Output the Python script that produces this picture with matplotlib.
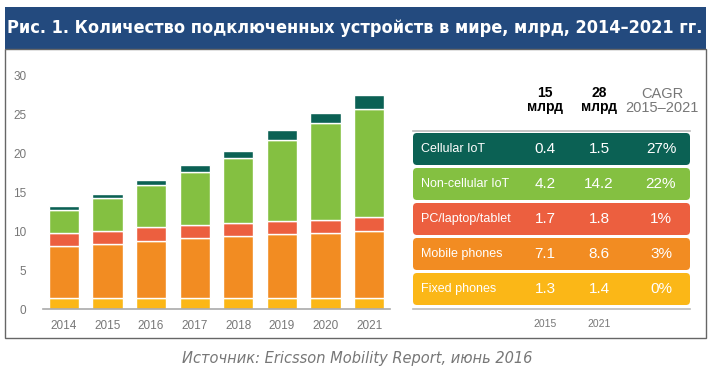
import matplotlib
matplotlib.use('Agg')
import matplotlib.pyplot as plt
from matplotlib.patches import Rectangle, FancyBboxPatch

W, H = 713, 377

years = ['2014', '2015', '2016', '2017', '2018', '2019', '2020', '2021']
fixed = [1.4, 1.4, 1.4, 1.4, 1.4, 1.4, 1.4, 1.4]
mobile = [6.7, 7.0, 7.3, 7.7, 8.0, 8.2, 8.4, 8.6]
pc = [1.7, 1.7, 1.8, 1.7, 1.7, 1.7, 1.7, 1.8]
noncell = [2.9, 4.2, 5.5, 6.9, 8.4, 10.4, 12.5, 14.0]
cell = [0.5, 0.5, 0.6, 0.8, 0.9, 1.3, 1.2, 1.7]

series = [fixed, mobile, pc, noncell, cell]
colors = ['#fbb717', '#f28c22', '#ec5f3f', '#84c041', '#0b6154']

row_names = ['Cellular IoT', 'Non-cellular IoT', 'PC/laptop/tablet', 'Mobile phones', 'Fixed phones']
row_2015 = ['0.4', '4.2', '1.7', '7.1', '1.3']
row_2021 = ['1.5', '14.2', '1.8', '8.6', '1.4']
row_cagr = ['27%', '22%', '1%', '3%', '0%']
row_colors = ['#0b6154', '#84c041', '#ec5f3f', '#f28c22', '#fbb717']

title = 'Рис. 1. Количество подключенных устройств в мире, млрд, 2014–2021 гг.'
source = 'Источник: Ericsson Mobility Report, июнь 2016'


def px_axes(fig, x0, y0, x1, y1):
    # pixel box (top-left origin) -> figure axes
    return fig.add_axes([x0 / W, 1 - y1 / H, (x1 - x0) / W, (y1 - y0) / H])


fig = plt.figure(figsize=(W / 100, H / 100), dpi=100)

# background layer in pixel coordinates
bg = fig.add_axes([0, 0, 1, 1])
bg.set_xlim(0, W)
bg.set_ylim(H, 0)
bg.axis('off')

bg.add_patch(Rectangle((5, 7), 701, 42, facecolor='#234a7e', edgecolor='none'))
bg.add_patch(Rectangle((5, 49), 701, 289, facecolor='white', edgecolor='#666666', lw=1.0))
bg.text(355, 28, title, color='white', fontsize=13, fontweight='bold',
        family='DejaVu Sans', fontstretch='condensed', ha='center', va='center')
bg.text(357, 359, source, color='#777777', fontsize=10.5, style='italic',
        ha='center', va='center')

# table on the right
bg.text(545, 100, '15\nмлрд', fontsize=10, fontweight='bold', ha='center', va='center',
        linespacing=1.05, family='Liberation Sans')
bg.text(599, 100, '28\nмлрд', fontsize=10, fontweight='bold', ha='center', va='center',
        linespacing=1.05, family='Liberation Sans')
bg.text(662, 101, 'CAGR\n2015–2021', fontsize=10.5, color='#777777', ha='center', va='center',
        linespacing=1.05, family='Liberation Sans')
bg.plot([413, 690], [131, 131], color='#bbbbbb', lw=1.2)
bg.plot([413, 690], [309, 309], color='#bbbbbb', lw=1.2)

for i, name in enumerate(row_names):
    top = 133 + i * 35
    bg.add_patch(FancyBboxPatch((413, top), 277, 32,
                                boxstyle='round,pad=0,rounding_size=4',
                                facecolor=row_colors[i], edgecolor='none'))
    cy = top + 16
    bg.text(421, cy, name, color='white', fontsize=9, ha='left', va='center',
            family='Liberation Sans')
    bg.text(545, cy, row_2015[i], color='white', fontsize=11, ha='center', va='center',
            family='Liberation Sans')
    bg.text(599, cy, row_2021[i], color='white', fontsize=11, ha='center', va='center',
            family='Liberation Sans')
    bg.text(661, cy, row_cagr[i], color='white', fontsize=11, ha='center', va='center',
            family='Liberation Sans')

bg.text(545, 324, '2015', color='#777777', fontsize=7.5, ha='center', va='center',
        family='Liberation Sans')
bg.text(599, 324, '2021', color='#777777', fontsize=7.5, ha='center', va='center',
        family='Liberation Sans')

# stacked bar chart
ax = px_axes(fig, 43, 70, 390, 309)
ax.patch.set_alpha(0)
x = list(range(len(years)))
bottom = [0.0] * len(years)
for vals, c in zip(series, colors):
    ax.bar(x, vals, bottom=bottom, width=0.69, color=c, edgecolor='white', linewidth=1.0)
    bottom = [b + v for b, v in zip(bottom, vals)]

ax.set_xlim(-0.48, 7.48)
ax.set_ylim(0, 30 * (309 - 70) / (309 - 76))
ax.set_yticks([0, 5, 10, 15, 20, 25, 30])
ax.set_xticks(x)
ax.set_xticklabels(years)
for s in ['top', 'right', 'left']:
    ax.spines[s].set_visible(False)
ax.spines['bottom'].set_color('#aaaaaa')
ax.spines['bottom'].set_linewidth(1.2)
ax.tick_params(length=0, colors='#777777', labelsize=8.5)
ax.tick_params(axis='y', pad=12)
ax.tick_params(axis='x', pad=8)
for lab in ax.get_xticklabels() + ax.get_yticklabels():
    lab.set_family('Liberation Sans')

fig.savefig('out.png', dpi=100)
